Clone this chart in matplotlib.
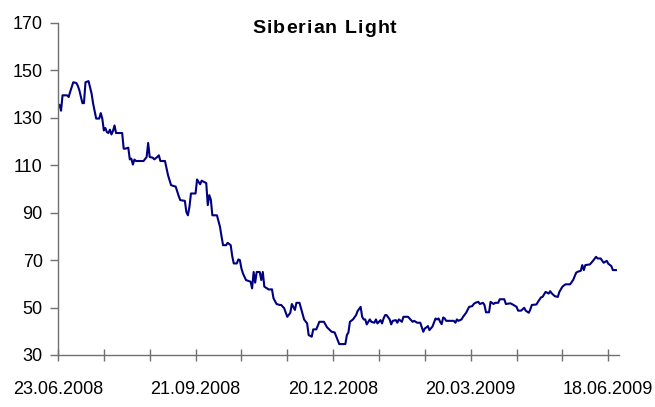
import matplotlib
matplotlib.use("Agg")
import matplotlib.pyplot as plt
import pandas as pd
from matplotlib import font_manager
from matplotlib.ft2font import FT2Font

plt.rcParams['font.family'] = ['Liberation Sans', 'DejaVu Sans']

# Siberian Light price, days counted from 23.06.2008
start = pd.Timestamp("2008-06-23")
days = [0, 1, 2, 3, 6, 7, 8, 10, 12, 13, 14, 16, 17, 18, 20, 22, 23, 25, 27, 28,
        29, 30, 31, 32, 33, 34, 35, 36, 37, 38, 42, 43, 44, 46, 47, 48, 49, 50, 51, 56,
        58, 59, 60, 62, 63, 65, 66, 67, 70, 72, 74, 77, 79, 80, 83, 84, 85, 86, 87, 90,
        91, 93, 94, 96, 97, 98, 99, 100, 101, 104, 106, 107, 108, 110, 111, 113, 114, 115, 117, 118,
        119, 120, 121, 123, 126, 127, 128, 129, 130, 132, 133, 134, 135, 138, 140, 141, 143, 145, 146, 148,
        150, 152, 153, 155, 156, 158, 160, 161, 163, 164, 166, 167, 169, 171, 174, 176, 179, 181, 183, 184,
        188, 189, 190, 191, 193, 195, 196, 198, 199, 200, 201, 202, 204, 205, 207, 208, 209, 211, 212,
        213, 214, 215, 217, 218, 219, 221, 222, 223, 225, 226, 229, 231, 232, 233, 235, 237, 239, 240, 241,
        242, 243, 245, 247, 248, 249, 250, 251, 252, 253, 254, 259, 260, 261, 262, 264, 265, 267, 269, 271,
        272, 273, 275, 276, 278, 279, 280, 282, 283, 285, 286, 288, 289, 292, 293, 296, 298, 300, 301, 303,
        305, 306, 308, 309, 310, 313, 314, 316, 317, 319, 321, 322, 323, 325, 327, 328, 330, 332, 335, 337,
        339, 340, 342, 343, 344, 345, 348, 350, 352, 353, 355, 357, 359, 360, 362, 363, 365]
prices = [135.3, 135.5, 133.0, 139.5, 139.5, 138.8, 141.0, 145.0, 144.7, 143.5, 141.6, 136.2, 136.2, 145.0, 145.5, 140.2, 136.0, 129.7, 129.7, 132.0,
          129.7, 124.7, 125.7, 124.0, 123.6, 125.0, 123.0, 124.5, 126.8, 123.6, 123.6, 117.0, 117.0, 117.4, 112.5, 112.8, 110.3, 112.4, 111.8, 111.8,
          113.5, 119.4, 113.5, 113.2, 112.5, 113.5, 114.2, 111.8, 111.8, 105.8, 101.6, 101.0, 97.0, 95.3, 95.0, 90.3, 88.9, 92.4, 98.1, 98.1,
          104.0, 102.0, 103.5, 102.8, 102.5, 93.2, 97.4, 95.5, 88.9, 88.9, 84.0, 80.0, 76.3, 76.3, 77.3, 76.3, 71.7, 68.6, 68.6, 70.3,
          70.0, 66.5, 64.4, 61.6, 60.9, 58.1, 65.0, 60.5, 65.0, 65.0, 61.6, 65.0, 58.8, 57.6, 57.7, 53.9, 51.5, 51.1, 51.1, 49.7,
          46.1, 47.8, 51.5, 49.0, 52.0, 52.0, 47.3, 45.0, 43.3, 38.4, 37.7, 40.8, 40.8, 44.0, 44.0, 41.7, 39.8, 39.5, 36.3, 34.6,
          34.6, 38.4, 39.5, 44.0, 45.0, 46.8, 48.5, 50.3, 46.1, 45.0, 45.0, 42.9, 45.0, 44.0, 43.6, 45.0, 43.3, 44.7, 43.3,
          45.4, 46.8, 46.8, 45.0, 42.9, 44.4, 44.7, 43.6, 45.0, 44.0, 46.1, 46.1, 44.7, 44.0, 44.4, 43.6, 43.6, 39.8, 41.2, 41.6,
          42.2, 40.5, 42.0, 45.4, 45.0, 45.4, 44.0, 43.0, 45.8, 45.4, 44.4, 44.4, 43.6, 45.0, 44.4, 45.0, 46.1, 47.8, 50.3, 50.6,
          51.5, 52.0, 52.4, 51.5, 52.0, 51.1, 48.0, 48.0, 52.4, 51.5, 52.0, 52.0, 53.5, 53.5, 51.5, 51.8, 51.1, 50.3, 48.7, 48.7,
          49.9, 48.7, 47.8, 49.2, 51.1, 51.3, 52.4, 54.3, 54.5, 56.6, 55.9, 56.9, 56.0, 54.8, 54.5, 56.6, 58.8, 59.8, 59.8, 61.6,
          64.7, 65.1, 65.5, 67.9, 65.8, 67.9, 68.2, 69.7, 71.4, 70.7, 70.7, 68.9, 69.7, 68.5, 67.5, 65.8, 65.8]
tick_labels = ["23.06.2008", "21.09.2008", "20.12.2008", "20.03.2009", "18.06.2009"]
y_ticks = [30, 50, 70, 90, 110, 130, 150, 170]
title = "Siberian Light"

dates = start + pd.to_timedelta(days, unit="D")
major = pd.to_datetime(tick_labels, format="%d.%m.%Y")
minor = [start + pd.Timedelta(days=30 * k) for k in range(13)]

W, H, DPI = 655, 407, 100
fig = plt.figure(figsize=(W / DPI, H / DPI), dpi=DPI)
ax = fig.add_axes([0.0885, 0.1278, 0.8565, 0.8157])

ax.plot(dates, prices, color="#000080", lw=1.5)

ax.set_xlim(start, start + pd.Timedelta(days=367))
ax.set_ylim(30, 170)
ax.set_yticks(y_ticks)
ax.set_xticks(major)
ax.set_xticklabels(tick_labels)
ax.set_xticks(minor, minor=True)

for s in ["top", "right"]:
    ax.spines[s].set_visible(False)
for s in ["left", "bottom"]:
    ax.spines[s].set_color("#707070")
    ax.spines[s].set_linewidth(1)

ax.tick_params(axis="y", direction="out", length=6, width=1, color="#707070",
               pad=5, labelsize=13)
ax.tick_params(axis="x", which="both", direction="inout", length=9, width=1,
               color="#707070", pad=14, labelsize=13)

# title with a bit of letter spacing, placed char by char
tsize, gap = 14, 1.1
fpath = font_manager.findfont(font_manager.FontProperties(family="Liberation Sans", weight="bold"))
ft = FT2Font(fpath)
ft.set_size(tsize, DPI)
adv = [ft.load_char(ord(c)).linearHoriAdvance / 65536 for c in title]
total = sum(adv) + gap * (len(title) - 1)
x = 324.5 - total / 2
for c, a in zip(title, adv):
    if c != " ":
        fig.text(x / W, 1 - 33 / H, c, ha="left", va="baseline",
                 fontsize=tsize, fontweight="bold")
    x += a + gap

fig.savefig("out.png", dpi=DPI)
